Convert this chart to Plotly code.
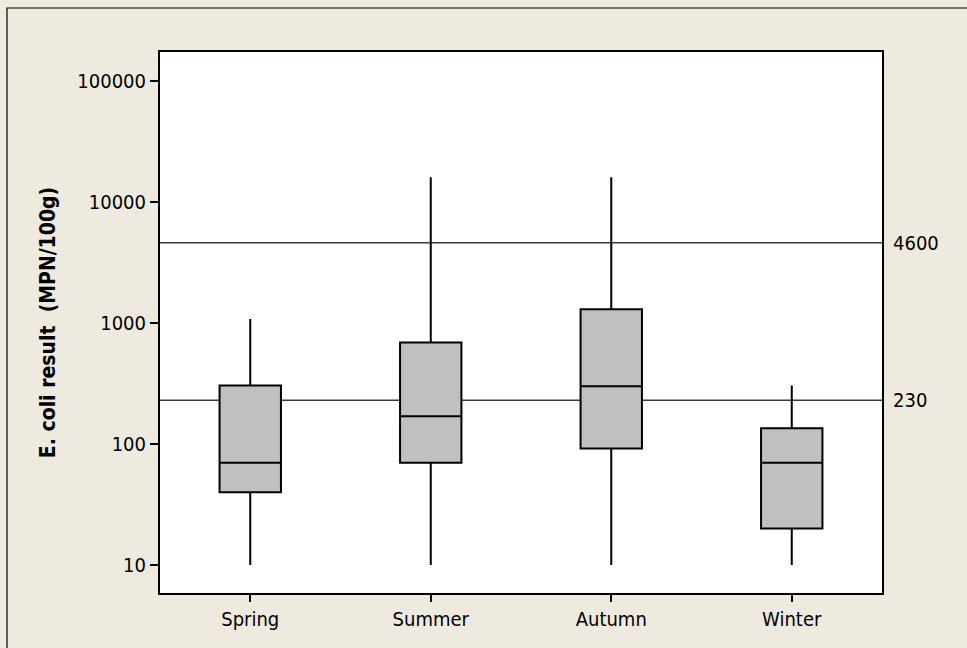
import math
import plotly.graph_objects as go

seasons = ["Spring", "Summer", "Autumn", "Winter"]
lower_whisker = [10, 10, 10, 10]
q1_vals = [40, 70, 92, 20]
median_vals = [70, 170, 300, 70]
q3_vals = [305, 690, 1300, 135]
upper_whisker = [1080, 16000, 16000, 305]

ref_values = [4600, 230]
ref_labels = ["4600", "230"]

y_tick_vals = [10, 100, 1000, 10000, 100000]
y_tick_text = ["10", "100", "1000", "10000", "100000"]

FONT = "DejaVu Sans Condensed, DejaVu Sans, sans-serif"
BG = "#EEEAE0"

fig = go.Figure()
fig.add_trace(go.Box(
    x=seasons,
    q1=q1_vals, median=median_vals, q3=q3_vals,
    lowerfence=lower_whisker, upperfence=upper_whisker,
    fillcolor="#C0C0C0",
    line=dict(color="black", width=2),
    whiskerwidth=0,
    width=0.34,
    boxpoints=False,
    showlegend=False,
    hoverinfo="skip",
))

shapes = []
for v in ref_values:
    shapes.append(dict(type="line", xref="paper", yref="y", x0=0, x1=1, y0=v, y1=v,
                       line=dict(color="#3a3a3a", width=1.5), layer="below"))
# outer frame
shapes.append(dict(type="rect", xref="paper", yref="paper",
                   x0=-0.2119, x1=1.2, y0=-0.15, y1=1.0813,
                   line=dict(color="black", width=1.2), fillcolor="rgba(0,0,0,0)", layer="below"))

annotations = []
for v, t in zip(ref_values, ref_labels):
    annotations.append(dict(x=1.012, xref="paper", y=math.log10(v), yref="y", text=t, showarrow=False,
                            xanchor="left", yanchor="middle",
                            font=dict(family=FONT, size=20, color="black")))

fig.update_layout(
    width=967, height=648,
    margin=dict(l=160, r=85, t=52, b=55),
    paper_bgcolor=BG, plot_bgcolor="white",
    font=dict(family=FONT, size=20, color="black"),
    shapes=shapes, annotations=annotations,
    xaxis=dict(
        type="category", range=[-0.5, 3.5],
        showline=True, mirror=True, linecolor="black", linewidth=2,
        ticks="outside", ticklen=7, tickwidth=1.5, tickcolor="black",
        showgrid=False, zeroline=False,
        tickfont=dict(family=FONT, size=20),
    ),
    yaxis=dict(
        type="log", range=[0.769, 5.24],
        tickvals=y_tick_vals, ticktext=y_tick_text,
        showline=True, mirror=True, linecolor="black", linewidth=2,
        ticks="outside", ticklen=8, tickwidth=1.5, tickcolor="black",
        showgrid=False, zeroline=False,
        tickfont=dict(family=FONT, size=20),
        title=dict(text="<b>E. coli result  (MPN/100g)</b>",
                   font=dict(family=FONT, size=21), standoff=16),
    ),
)

fig.write_html("out.html",
               config={"displayModeBar": False},
               post_script="document.body.style.margin='0';document.body.style.overflow='hidden';")
